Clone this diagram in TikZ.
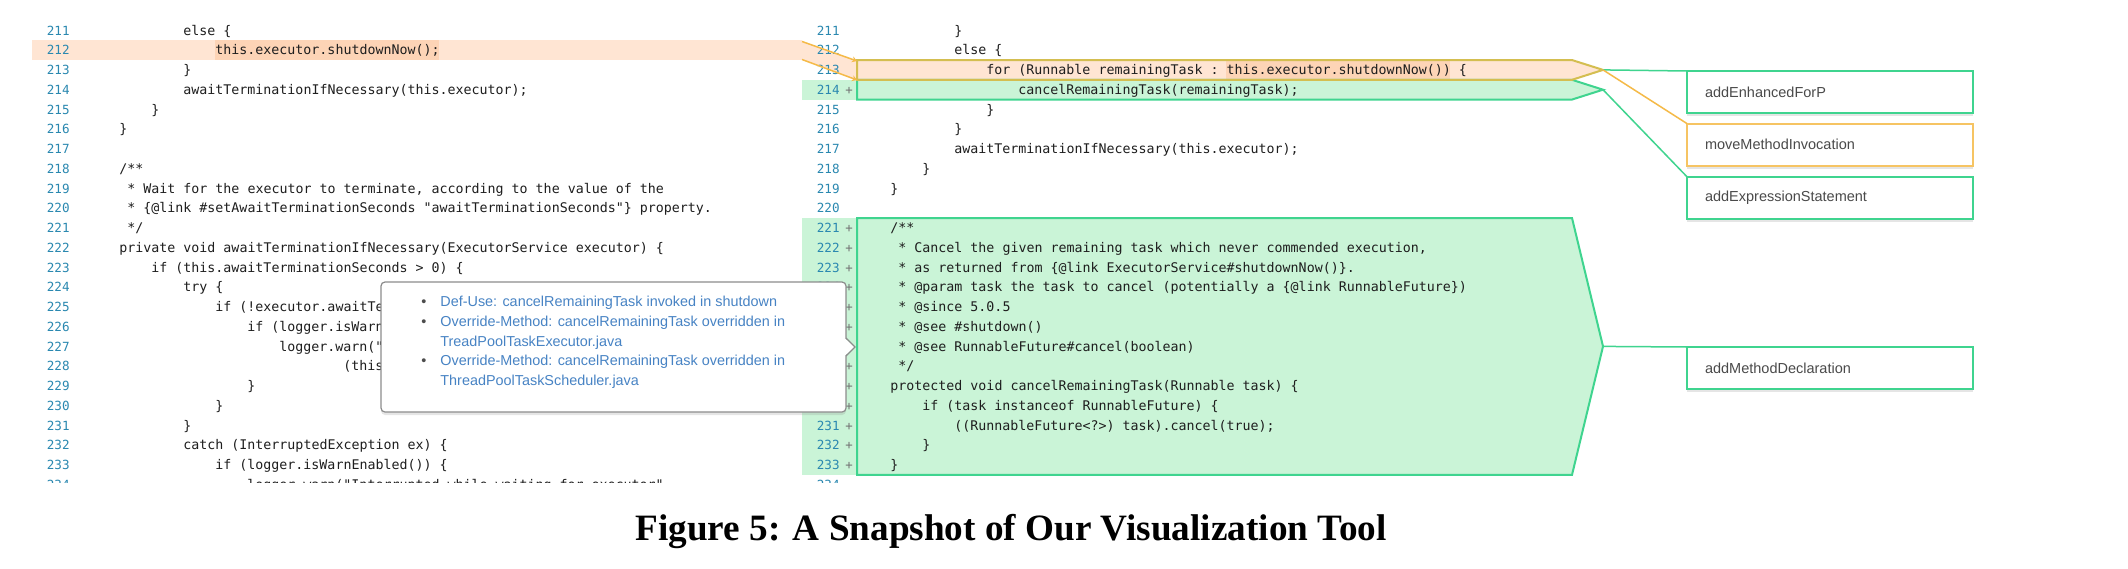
\documentclass[tikz,border=0pt]{standalone}
\usepackage{fontspec}
\usepackage{xcolor}
\usepackage{tikz}
\usetikzlibrary{arrows.meta, positioning, shadows}

\newfontfamily\codefont{DejaVu Sans Mono}
\newfontfamily\uifont{Liberation Sans}
\newfontfamily\capfont{Liberation Serif}

\definecolor{rowOrange}{HTML}{FFE5D3}
\definecolor{hlOrange}{HTML}{FDD4B6}
\definecolor{rowGreen}{HTML}{CAF4D7}
\definecolor{lnGreen}{HTML}{3FD48F}
\definecolor{lnOrange}{HTML}{F5BA48}
\definecolor{lnOlive}{HTML}{D4BE50}
\definecolor{numBlue}{HTML}{2A88B0}
\definecolor{codeGray}{HTML}{1E1E1E}
\definecolor{linkBlue}{HTML}{4783C4}
\definecolor{tagText}{HTML}{4A4A4A}
\definecolor{popGray}{HTML}{8C8C8C}

\tikzset{
  codetxt/.style={anchor=base west, inner sep=0pt, text=codeGray,
    font=\codefont\fontsize{6.65}{8}\selectfont\frenchspacing},
  lnum/.style={anchor=base east, inner sep=0pt, text=numBlue,
    font=\codefont\fontsize{6.3}{8}\selectfont},
  plusmark/.style={anchor=base, inner sep=0pt, text=black!55,
    font=\codefont\fontsize{6.2}{8}\selectfont},
  tagbox/.style={draw, line width=1pt, fill=white, text=tagText,
    font=\uifont\fontsize{7.25}{9}\selectfont, text width=125pt, align=left,
    inner xsep=9pt, inner ysep=0pt, minimum height=21pt, outer sep=0pt,
    anchor=north west,
    drop shadow={shadow xshift=0pt, shadow yshift=-1.5pt, opacity=0.2}},
  popbox/.style={draw=popGray, line width=0.6pt, fill=white, rounded corners=2pt,
    minimum width=232.5pt, minimum height=65pt, inner sep=0pt, outer sep=0pt,
    anchor=north west,
    drop shadow={shadow xshift=0pt, shadow yshift=-1.5pt, opacity=0.2}},
  poptxt/.style={anchor=base west, inner sep=0pt, text=linkBlue,
    font=\uifont\fontsize{7.2}{9}\selectfont},
  popdot/.style={anchor=base, inner sep=0pt, text=black!70,
    font=\uifont\fontsize{7.2}{9}\selectfont},
  rowline/.style={line width=1pt},
  tagline/.style={line width=0.75pt}
}

% one code line: number, indent level, text
\newcommand\lcode[3]{\node[codetxt] (l#1) at ({119+32*(#2-1)},{35.1+19.75*(#1-211)}) {#3};}
\newcommand\rcode[3]{\node[codetxt] (r#1) at ({890+32*(#2-1)},{35.1+19.75*(#1-211)}) {#3};}

\begin{document}
\begin{tikzpicture}[x=0.5pt, y=-0.5pt]
    \fill[white] (0,0) rectangle (2128,568);
    \useasboundingbox (0,0) rectangle (2128,568);

    % highlighted rows
    \fill[rowOrange] (32,40.3) rectangle (802,60.05);
    \fill[hlOrange] (215,40.3) rectangle (439,60.05);
    \fill[rowGreen] (802,79.8) rectangle (857,99.55);
    \fill[rowGreen] (802,218.05) rectangle (857,474.8);

    % chevrons of the right pane
    \coordinate (t213) at (1603,69.9);
    \coordinate (t214) at (1603,89.7);
    \coordinate (tdecl) at (1603,346.4);
    \fill[rowGreen] (857,79.8) -- (1572,79.8) -- (t214) -- (1572,99.55) -- (857,99.55) -- cycle;
    \fill[rowOrange] (857,60.05) -- (1572,60.05) -- (t213) -- (1572,79.8) -- (857,79.8) -- cycle;
    \fill[hlOrange] (1226,60.05) rectangle (1450,79.8);
    \fill[rowGreen] (857,218.05) -- (1572,218.05) -- (tdecl) -- (1572,474.8) -- (857,474.8) -- cycle;

    % band from the old line to the new one
    \coordinate (s1) at (802,41.5);
    \coordinate (s2) at (802,59.5);
    \coordinate (e1) at (857,61);
    \coordinate (e2) at (857,80);
    \fill[rowOrange] (s1) -- (e1) -- (e2) -- (s2) -- cycle;

    \begin{scope}
        \clip (0,0) rectangle (2128,482);
        \foreach \n in {211,...,234} {
            \node[lnum] (ln\n) at (70,{35.1+19.75*(\n-211)}) {\n};
            \node[lnum] (rn\n) at (840,{35.1+19.75*(\n-211)}) {\n};
        }
        \foreach \n in {214,221,222,...,233} {
            \node[plusmark] (pl\n) at (849,{35.1+19.75*(\n-211)}) {+};
        }
        % old file
        \lcode{211}{3}{else \{}
        \lcode{212}{4}{this.executor.shutdownNow();}
        \lcode{213}{3}{\}}
        \lcode{214}{3}{awaitTerminationIfNecessary(this.executor);}
        \lcode{215}{2}{\}}
        \lcode{216}{1}{\}}
        \lcode{218}{1}{/**}
        \lcode{219}{1.25}{* Wait for the executor to terminate, according to the value of the}
        \lcode{220}{1.25}{* \{@link \#setAwaitTerminationSeconds "awaitTerminationSeconds"\} property.}
        \lcode{221}{1.25}{*/}
        \lcode{222}{1}{private void awaitTerminationIfNecessary(ExecutorService executor) \{}
        \lcode{223}{2}{if (this.awaitTerminationSeconds > 0) \{}
        \lcode{224}{3}{try \{}
        \lcode{225}{4}{if (!executor.awaitTerm}
        \lcode{226}{5}{if (logger.isWarnE}
        \lcode{227}{6}{logger.warn("T}
        \lcode{228}{8}{(this.a}
        \lcode{229}{5}{\}}
        \lcode{230}{4}{\}}
        \lcode{231}{3}{\}}
        \lcode{232}{3}{catch (InterruptedException ex) \{}
        \lcode{233}{4}{if (logger.isWarnEnabled()) \{}
        \lcode{234}{5}{logger.warn("Interrupted while waiting for executor"}
        % new file
        \rcode{211}{3}{\}}
        \rcode{212}{3}{else \{}
        \rcode{213}{4}{for (Runnable remainingTask : this.executor.shutdownNow()) \{}
        \rcode{214}{5}{cancelRemainingTask(remainingTask);}
        \rcode{215}{4}{\}}
        \rcode{216}{3}{\}}
        \rcode{217}{3}{awaitTerminationIfNecessary(this.executor);}
        \rcode{218}{2}{\}}
        \rcode{219}{1}{\}}
        \rcode{221}{1}{/**}
        \rcode{222}{1.25}{* Cancel the given remaining task which never commended execution,}
        \rcode{223}{1.25}{* as returned from \{@link ExecutorService\#shutdownNow()\}.}
        \rcode{224}{1.25}{* @param task the task to cancel (potentially a \{@link RunnableFuture\})}
        \rcode{225}{1.25}{* @since 5.0.5}
        \rcode{226}{1.25}{* @see \#shutdown()}
        \rcode{227}{1.25}{* @see RunnableFuture\#cancel(boolean)}
        \rcode{228}{1.25}{*/}
        \rcode{229}{1}{protected void cancelRemainingTask(Runnable task) \{}
        \rcode{230}{2}{if (task instanceof RunnableFuture) \{}
        \rcode{231}{3}{((RunnableFuture<?>) task).cancel(true);}
        \rcode{232}{2}{\}}
        \rcode{233}{1}{\}}
    \end{scope}

    % chevron borders
    \draw[lnGreen, rowline] (857,79.8) -- (1572,79.8) -- (t214) -- (1572,99.55) -- (857,99.55) -- cycle;
    \draw[lnOlive, rowline] (857,60.05) -- (1572,60.05) -- (t213) -- (1572,79.8) -- (857,79.8) -- cycle;
    \draw[lnGreen, rowline] (857,218.05) -- (1572,218.05) -- (tdecl) -- (1572,474.8) -- (857,474.8) -- cycle;
    \draw[lnOrange, tagline, -{Stealth[length=2.5pt, width=3pt]}] (s1) -- (e1);
    \draw[lnOrange, tagline, -{Stealth[length=2.5pt, width=3pt]}] (s2) -- (e2);

    % edit actions
    \node[tagbox, draw=lnGreen] (tEnh) at (1687,71) {addEnhancedForP};
    \node[tagbox, draw=lnOrange!85, below=5.3pt of tEnh] (tMove) {moveMethodInvocation};
    \node[tagbox, draw=lnGreen, below=5.6pt of tMove] (tExpr) {addExpressionStatement};
    \node[tagbox, draw=lnGreen] (tDecl) at (1687,347) {addMethodDeclaration};
    \draw[lnGreen, tagline] (t213) -- (tEnh.north west);
    \draw[lnOrange, tagline] (t213) -- (tMove.north west);
    \draw[lnGreen, tagline] (t214) -- (tExpr.north west);
    \draw[lnGreen, tagline] (tdecl) -- (tDecl.north west);

    % tooltip
    \node[popbox] (pop) at (381,282) {};
    \fill[white] ([xshift=-0.8pt, yshift=4.5pt]pop.east) -- ([xshift=4.5pt]pop.east)
        -- ([xshift=-0.8pt, yshift=-4.5pt]pop.east) -- cycle;
    \draw[popGray, line width=0.6pt] ([yshift=4.5pt]pop.east) -- ([xshift=4.5pt]pop.east)
        -- ([yshift=-4.5pt]pop.east);
    \node[popdot] (d1) at (424,306.7) {\textbullet};
    \node[poptxt] (p1) at (440,306.7) {Def-Use: cancelRemainingTask invoked in shutdown};
    \node[popdot] (d2) at (424,326.7) {\textbullet};
    \node[poptxt] (p2) at (440,326.7) {Override-Method: cancelRemainingTask overridden in};
    \node[poptxt] (p3) at (440,346) {TreadPoolTaskExecutor.java};
    \node[popdot] (d3) at (424,365.7) {\textbullet};
    \node[poptxt] (p4) at (440,365.7) {Override-Method: cancelRemainingTask overridden in};
    \node[poptxt] (p5) at (440,385) {ThreadPoolTaskScheduler.java};

    \node[anchor=base, inner sep=0pt, font=\capfont\bfseries\fontsize{18.6}{22}\selectfont]
        (cap) at (1011,540) {Figure 5: A Snapshot of Our Visualization Tool};
\end{tikzpicture}
\end{document}
